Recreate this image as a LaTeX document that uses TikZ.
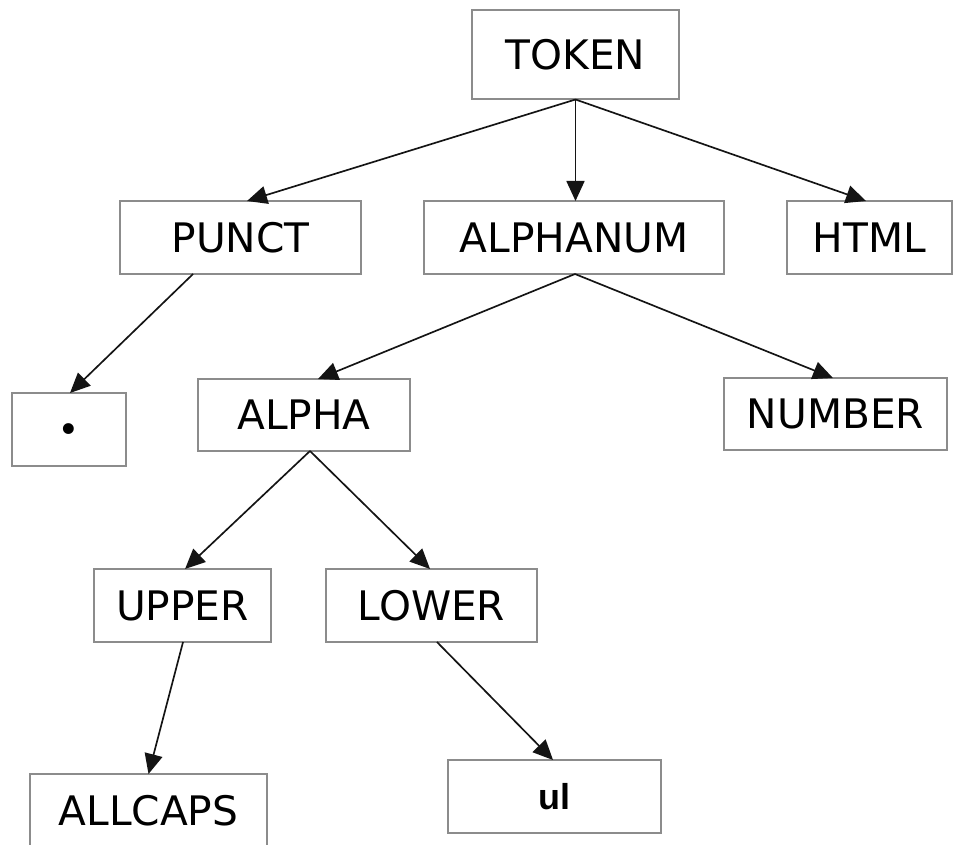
\documentclass[tikz,border=0pt]{standalone}
\usepackage{fontspec}
\setmainfont{DejaVu Sans}
\newfontfamily\ulfont{Liberation Sans}
\newfontfamily\dotfont{Liberation Serif}
\usetikzlibrary{arrows.meta}
\definecolor{boxgray}{RGB}{140,140,140}
\definecolor{arrowcol}{RGB}{20,20,20}
\begin{document}
\begin{tikzpicture}[x=0.75pt,y=-0.75pt,
  box/.style={draw=boxgray,line width=1.5pt,fill=white,rectangle,inner sep=0pt,outer sep=0pt,
    font=\fontsize{30.5}{30.5}\selectfont,text=black},
  conn/.style={draw=arrowcol,line width=1.25pt,-{Triangle[length=15pt,width=13.5pt]}}]
\useasboundingbox[fill=white] (0,0) rectangle (954,845);
\node[box,minimum width=207*0.75pt,minimum height=89*0.75pt] (token) at (575.5,55) {TOKEN};
\node[box,minimum width=241*0.75pt,minimum height=73*0.75pt] (punct) at (240.5,237.5) {PUNCT};
\node[box,minimum width=300*0.75pt,minimum height=73*0.75pt] (alphanum) at (574,237.5) {ALPHANUM};
\node[box,minimum width=165*0.75pt,minimum height=73*0.75pt] (html) at (869.5,237.5) {HTML};
\node[box,minimum width=114*0.75pt,minimum height=73*0.75pt,font=\dotfont\bfseries\fontsize{50}{50}\selectfont] (dot) at (69,429.5) {.};
\node[box,minimum width=212*0.75pt,minimum height=72*0.75pt] (alpha) at (304,415) {ALPHA};
\node[box,minimum width=223*0.75pt,minimum height=72*0.75pt] (number) at (835.5,414) {NUMBER};
\node[box,minimum width=177*0.75pt,minimum height=73*0.75pt] (upper) at (182.5,605.5) {UPPER};
\node[box,minimum width=211*0.75pt,minimum height=73*0.75pt] (lower) at (431.5,605.5) {LOWER};
\node[box,minimum width=237*0.75pt,minimum height=73*0.75pt] (allcaps) at (148.5,810.5) {ALLCAPS};
\node[box,minimum width=213*0.75pt,minimum height=73*0.75pt,font=\ulfont\bfseries\fontsize{27}{27}\selectfont] (ul) at (554.5,796.5) {ul};
\draw[conn] (token.south) -- ([xshift=4.9pt]punct.north);
\draw[conn] (token.south) -- (token.south |- alphanum.north);
\draw[conn] (token.south) -- ([xshift=-2.6pt]html.north);
\draw[conn] ([xshift=-35.6pt]punct.south) -- ([xshift=0.75pt]dot.north);
\draw[conn] ([xshift=0.75pt]alphanum.south) -- ([xshift=10.5pt]alpha.north);
\draw[conn] ([xshift=0.75pt]alphanum.south) -- ([xshift=-1.9pt]number.north);
\draw[conn] ([xshift=4.5pt]alpha.south) -- ([xshift=1.9pt]upper.north);
\draw[conn] ([xshift=4.5pt]alpha.south) -- ([xshift=-1.1pt]lower.north);
\draw[conn] ([xshift=0.4pt]upper.south) -- (allcaps.north);
\draw[conn] ([xshift=4.1pt]lower.south) -- ([xshift=-1.1pt]ul.north);
\end{tikzpicture}
\end{document}
